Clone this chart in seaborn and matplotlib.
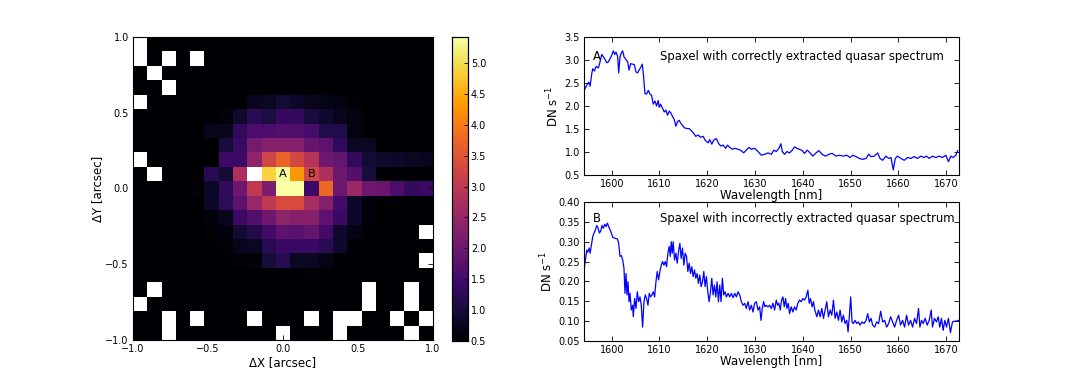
import numpy as np
import pandas as pd
import matplotlib
matplotlib.use("Agg")
import matplotlib.pyplot as plt
import seaborn as sns

N = np.nan

# ---------------- data ----------------
AXIS_TICKS = [-1.0, -0.5, 0.0, 0.5, 1.0]
CBAR_TICKS = [0.5, 1.0, 1.5, 2.0, 2.5, 3.0, 3.5, 4.0, 4.5, 5.0]
CBAR_MIN = 0.5
CBAR_MAX = 5.42

# 21 x 21 map, first row = top (dY = +1), first column = left (dX = -1)
FLUX_MAP = [
    [N, .5, .5, .5, .5, .5, .5, .5, .5, .5, .5, .5, .5, .5, .5, .5, .5, .5, .5, .5, .5],
    [N, .5, N, .5, N, .5, .5, .5, .5, .5, .5, .5, .5, .5, .5, .5, .5, .5, .5, .5, .5],
    [.5, N, .5, .5, .5, .5, .5, .5, .5, .5, .5, .5, .5, .5, .5, .5, .5, .5, .5, .5, .5],
    [.5, .5, N, .5, .5, .5, .5, .5, .5, .5, .5, .5, .5, .5, .5, .5, .5, .5, .5, .5, .5],
    [N, .5, .5, .5, .5, .5, .5, .5, .75, .8, .95, .85, .75, .7, .65, .55, .5, .5, .5, .5, .5],
    [.5, .5, .5, .5, .5, .5, .6, .9, 1.2, 1.05, 1.35, 1.35, 1.0, .9, .75, .65, .5, .5, .5, .5, .5],
    [.5, .5, .5, .5, .5, .75, .75, 1.3, 1.6, 1.6, 1.7, 1.65, 1.55, 1.1, 1.1, .65, .5, .5, .5, .5, .5],
    [.5, .5, .5, .5, .5, .5, 1.0, 1.4, 2.1, 2.3, 2.3, 2.3, 1.9, 1.8, 1.3, .8, .8, .5, .5, .5, .5],
    [N, .5, .5, .5, .5, .5, 1.45, 1.45, 2.4, 3.25, 3.7, 3.3, 2.9, 2.0, 1.9, 1.3, .95, .9, .85, .8, .75],
    [.5, N, .5, .5, .5, 1.2, .95, 2.8, N, 4.9, 5.35, 4.3, 3.25, 2.8, 2.0, 1.7, 1.0, .5, .5, .5, .5],
    [.5, .5, .5, .5, .55, .85, 1.3, 2.0, 3.0, 2.2, 5.42, 5.42, 1.45, 3.75, 2.0, 2.55, 2.0, 1.95, 1.6, 1.3, 1.4],
    [.5, .5, .5, .5, .5, .85, 1.25, 1.8, 2.5, 3.0, 3.35, 3.35, 2.7, 2.25, 1.5, .85, .6, .5, .5, .5, .5],
    [.5, .5, .5, .5, .5, .6, .75, 1.45, 1.7, 2.0, 2.4, 2.3, 2.3, 1.8, 1.4, .85, .6, .5, .5, .5, .5],
    [.5, .5, .5, .5, .5, .55, .6, .95, 1.1, 1.5, 1.8, 1.75, 1.9, 1.5, .9, .7, .5, .5, .5, .5, N],
    [.5, .5, .5, .5, .5, .5, .55, .75, .8, 1.2, 1.4, 1.4, 1.4, 1.2, .9, .5, .5, .5, .5, .5, .5],
    [.5, .5, .5, .5, .5, .5, .5, .55, .6, 1.0, 1.2, .8, .8, .7, .5, .5, .5, .5, .5, .5, N],
    [.5, .5, .5, .5, .5, .5, .5, .5, .5, .5, .5, .5, .55, .5, .5, .5, .5, .5, .5, .5, .5],
    [.5, N, .5, .5, .5, .5, .5, .5, .5, .5, .5, .5, .5, .5, .5, .5, N, .5, .5, N, .5],
    [N, .5, .5, .5, .5, .5, .5, .5, .5, .5, .5, .5, .5, .5, .5, .5, N, .5, .5, N, .5],
    [.5, .5, N, .5, N, .5, .5, .5, N, .5, .5, .5, N, .5, N, N, .5, .5, N, .5, N],
    [.5, .5, N, .5, .5, .5, .5, .5, .5, .5, N, .5, .5, .5, N, .5, .5, .5, .5, N, .5],
]
MAP_LABELS = ["A", "B"]
MAP_LABEL_CELLS = [(9, 10), (9, 12)]  # (row, col)

WAVE_A = [1594.22, 1594.78, 1595.20, 1595.48, 1595.82, 1596.03, 1596.38, 1596.73, 1597.22, 1597.56,
          1597.91, 1598.26, 1598.61, 1598.96, 1599.30, 1599.65, 1600.00, 1600.35, 1600.63, 1600.90,
          1601.25, 1601.46, 1601.74, 1602.09, 1602.30, 1602.57, 1602.99, 1603.34, 1603.62, 1603.97,
          1604.38, 1604.73, 1605.08, 1605.43, 1605.78, 1606.12, 1606.40, 1606.68, 1606.96, 1607.31,
          1607.66, 1608.00, 1608.35, 1608.70, 1609.05, 1609.39, 1609.74, 1609.95, 1610.23, 1610.65,
          1611.00, 1611.34, 1611.69, 1612.04, 1612.39, 1612.73, 1613.08, 1613.43, 1613.78, 1614.13,
          1614.47, 1614.82, 1615.17, 1615.66, 1616.21, 1616.70, 1617.19, 1617.61, 1618.09, 1618.58,
          1619.14, 1619.62, 1620.18, 1620.53, 1620.95, 1621.36, 1621.92, 1622.41, 1622.83, 1623.31,
          1623.87, 1624.22, 1624.70, 1625.26, 1625.75, 1626.44, 1627.14, 1627.63, 1628.18, 1628.74,
          1629.23, 1629.92, 1630.62, 1631.32, 1632.01, 1632.71, 1633.40, 1633.96, 1634.45, 1635.00,
          1635.42, 1635.70, 1636.19, 1636.67, 1637.23, 1637.79, 1638.27, 1638.76, 1639.32, 1639.87,
          1640.36, 1640.92, 1641.54, 1642.10, 1642.66, 1643.35, 1644.05, 1644.75, 1645.44, 1646.14,
          1646.97, 1647.67, 1648.50, 1649.20, 1649.90, 1650.45, 1651.15, 1651.84, 1652.54, 1653.24,
          1653.79, 1654.28, 1654.98, 1655.67, 1656.16, 1656.72, 1657.41, 1657.97, 1658.46, 1658.94,
          1659.36, 1659.85, 1660.54, 1661.24, 1661.93, 1662.63, 1663.33, 1664.02, 1664.72, 1665.41,
          1665.90, 1666.46, 1667.15, 1667.85, 1668.55, 1669.24, 1669.94, 1670.49, 1670.98, 1671.47,
          1672.03, 1672.44]
FLUX_A = [2.34, 2.45, 2.52, 2.43, 2.70, 2.81, 2.76, 2.86, 2.83, 2.96,
          3.12, 3.07, 3.01, 2.94, 2.96, 3.03, 3.10, 3.20, 3.12, 3.17,
          3.07, 2.72, 3.07, 3.17, 3.20, 3.07, 3.01, 2.96, 2.78, 2.92,
          2.91, 2.90, 2.74, 2.72, 2.79, 2.85, 2.91, 2.63, 2.27, 2.26,
          2.34, 2.26, 2.23, 2.04, 2.11, 2.00, 2.12, 1.97, 2.04, 1.95,
          1.87, 1.91, 1.80, 1.89, 1.85, 1.77, 1.71, 1.56, 1.66, 1.69,
          1.62, 1.58, 1.53, 1.51, 1.51, 1.46, 1.40, 1.34, 1.37, 1.32,
          1.34, 1.25, 1.20, 1.27, 1.17, 1.26, 1.29, 1.18, 1.13, 1.15,
          1.08, 1.15, 1.10, 1.06, 1.08, 1.06, 1.03, 0.98, 1.04, 1.10,
          1.06, 1.08, 1.01, 0.93, 0.95, 0.98, 0.95, 1.04, 1.01, 1.08,
          1.18, 1.01, 0.95, 1.01, 0.98, 1.04, 1.11, 1.08, 1.06, 1.03,
          0.97, 1.04, 0.98, 0.91, 0.97, 1.03, 0.95, 0.91, 0.95, 0.97,
          0.91, 0.93, 0.91, 0.93, 0.88, 0.93, 0.90, 0.86, 0.84, 0.86,
          0.95, 0.90, 0.91, 0.98, 0.86, 0.82, 0.91, 0.86, 0.88, 0.61,
          0.86, 0.91, 0.86, 0.82, 0.88, 0.86, 0.90, 0.86, 0.91, 0.88,
          0.91, 0.86, 0.91, 0.88, 0.91, 0.88, 0.93, 0.79, 0.91, 0.88,
          0.93, 1.03]

WAVE_B = [1594.22, 1594.50, 1594.78, 1594.99, 1595.27, 1595.48, 1595.75, 1596.03, 1596.31, 1596.59,
          1596.87, 1597.15, 1597.43, 1597.70, 1597.98, 1598.26, 1598.54, 1598.82, 1599.10, 1599.37,
          1599.65, 1599.93, 1600.21, 1600.63, 1601.18, 1601.46, 1601.74, 1602.02, 1602.30, 1602.57,
          1602.78, 1602.99, 1603.20, 1603.41, 1603.62, 1603.83, 1604.11, 1604.38, 1604.52, 1604.80,
          1605.08, 1605.36, 1605.64, 1605.92, 1606.19, 1606.47, 1606.75, 1607.03, 1607.31, 1607.59,
          1607.86, 1608.14, 1608.42, 1608.70, 1608.98, 1609.26, 1609.53, 1609.81, 1610.09, 1610.37,
          1610.65, 1610.93, 1611.20, 1611.48, 1611.76, 1612.04, 1612.25, 1612.46, 1612.67, 1612.87,
          1613.15, 1613.43, 1613.71, 1613.99, 1614.27, 1614.54, 1614.82, 1615.10, 1615.38, 1615.66,
          1615.94, 1616.21, 1616.49, 1616.77, 1617.05, 1617.33, 1617.61, 1617.88, 1618.16, 1618.44,
          1618.72, 1619.00, 1619.28, 1619.55, 1619.83, 1620.11, 1620.39, 1620.67, 1620.95, 1621.22,
          1621.50, 1621.78, 1622.06, 1622.34, 1622.62, 1622.89, 1623.17, 1623.45, 1623.73, 1624.01,
          1624.36, 1624.70, 1625.05, 1625.40, 1625.75, 1626.10, 1626.44, 1626.79, 1627.14, 1627.49,
          1627.84, 1628.18, 1628.53, 1628.88, 1629.23, 1629.58, 1629.92, 1630.27, 1630.62, 1630.97,
          1631.25, 1631.52, 1631.80, 1632.08, 1632.36, 1632.71, 1633.06, 1633.40, 1633.75, 1634.10,
          1634.45, 1634.73, 1635.00, 1635.28, 1635.56, 1635.84, 1636.12, 1636.40, 1636.67, 1636.95,
          1637.23, 1637.58, 1637.93, 1638.27, 1638.62, 1638.97, 1639.32, 1639.67, 1640.01, 1640.36,
          1640.71, 1641.06, 1641.34, 1641.61, 1641.96, 1642.24, 1642.52, 1642.94, 1643.28, 1643.63,
          1643.98, 1644.33, 1644.68, 1645.02, 1645.37, 1645.72, 1646.07, 1646.42, 1646.76, 1647.11,
          1647.46, 1647.81, 1648.16, 1648.50, 1648.85, 1649.20, 1649.48, 1649.76, 1650.03, 1650.31,
          1650.59, 1650.94, 1651.29, 1651.64, 1651.98, 1652.40, 1652.82, 1653.24, 1653.58, 1653.93,
          1654.28, 1654.63, 1655.05, 1655.46, 1655.88, 1656.30, 1656.72, 1657.13, 1657.55, 1657.97,
          1658.39, 1658.80, 1659.22, 1659.64, 1660.06, 1660.47, 1660.89, 1661.31, 1661.73, 1662.14,
          1662.56, 1662.98, 1663.40, 1663.81, 1664.23, 1664.51, 1664.86, 1665.21, 1665.62, 1666.04,
          1666.46, 1666.88, 1667.15, 1667.57, 1667.99, 1668.34, 1668.68, 1669.03, 1669.38, 1669.73,
          1670.08, 1670.49, 1670.91, 1671.33, 1671.75, 1672.16, 1672.58]
FLUX_B = [0.231, 0.254, 0.279, 0.274, 0.284, 0.271, 0.292, 0.313, 0.322, 0.330,
          0.341, 0.334, 0.322, 0.327, 0.341, 0.334, 0.344, 0.338, 0.347, 0.338,
          0.330, 0.322, 0.311, 0.309, 0.307, 0.296, 0.263, 0.265, 0.254, 0.233,
          0.170, 0.220, 0.166, 0.199, 0.149, 0.170, 0.128, 0.140, 0.111, 0.157,
          0.132, 0.174, 0.149, 0.161, 0.140, 0.085, 0.149, 0.166, 0.157, 0.140,
          0.170, 0.161, 0.166, 0.174, 0.161, 0.199, 0.225, 0.204, 0.225, 0.241,
          0.250, 0.241, 0.250, 0.237, 0.271, 0.288, 0.263, 0.300, 0.271, 0.300,
          0.254, 0.271, 0.246, 0.275, 0.296, 0.258, 0.284, 0.241, 0.271, 0.263,
          0.225, 0.246, 0.220, 0.237, 0.212, 0.229, 0.208, 0.220, 0.195, 0.216,
          0.187, 0.199, 0.225, 0.187, 0.212, 0.174, 0.149, 0.174, 0.208, 0.166,
          0.191, 0.161, 0.199, 0.149, 0.191, 0.149, 0.208, 0.166, 0.174, 0.161,
          0.170, 0.161, 0.170, 0.159, 0.170, 0.161, 0.174, 0.166, 0.149, 0.140,
          0.145, 0.132, 0.149, 0.128, 0.140, 0.123, 0.145, 0.149, 0.128, 0.136,
          0.102, 0.132, 0.149, 0.136, 0.140, 0.136, 0.140, 0.132, 0.145, 0.128,
          0.153, 0.140, 0.145, 0.128, 0.153, 0.161, 0.136, 0.157, 0.132, 0.145,
          0.119, 0.136, 0.123, 0.136, 0.128, 0.145, 0.153, 0.149, 0.157, 0.153,
          0.161, 0.178, 0.145, 0.157, 0.136, 0.149, 0.128, 0.111, 0.128, 0.111,
          0.132, 0.107, 0.128, 0.149, 0.111, 0.128, 0.115, 0.153, 0.107, 0.123,
          0.102, 0.128, 0.098, 0.115, 0.094, 0.102, 0.073, 0.115, 0.161, 0.098,
          0.094, 0.102, 0.094, 0.098, 0.090, 0.098, 0.094, 0.102, 0.119, 0.098,
          0.107, 0.090, 0.085, 0.098, 0.094, 0.125, 0.098, 0.102, 0.085, 0.094,
          0.111, 0.098, 0.085, 0.102, 0.115, 0.090, 0.102, 0.085, 0.115, 0.090,
          0.102, 0.085, 0.107, 0.094, 0.132, 0.085, 0.102, 0.094, 0.107, 0.090,
          0.102, 0.128, 0.085, 0.107, 0.098, 0.111, 0.085, 0.107, 0.077, 0.102,
          0.085, 0.107, 0.071, 0.098, 0.100, 0.100, 0.102]

WAVE_TICKS = [1600, 1610, 1620, 1630, 1640, 1650, 1660, 1670]
YTICKS_A = [0.5, 1.0, 1.5, 2.0, 2.5, 3.0, 3.5]
YTICKS_B = [0.05, 0.10, 0.15, 0.20, 0.25, 0.30, 0.35, 0.40]
TITLE_A = "Spaxel with correctly extracted quasar spectrum"
TITLE_B = "Spaxel with incorrectly extracted quasar spectrum"

# ---------------- style ----------------
TICK_FS = 7.0
LABEL_FS = 8.5
NOTE_FS = 8.4

plt.rcParams.update({
    "font.family": ["DejaVu Sans"],
    "xtick.direction": "in", "ytick.direction": "in",
    "xtick.top": True, "ytick.right": True,
    "xtick.labelsize": TICK_FS, "ytick.labelsize": TICK_FS,
    "axes.labelsize": LABEL_FS,
    "xtick.major.size": 3.5, "ytick.major.size": 3.5,
    "axes.unicode_minus": True,
})

W, H = 1066, 380
fig = plt.figure(figsize=(W / 100, H / 100), dpi=100)


def px_axes(x0, y0, x1, y1):
    return fig.add_axes([x0 / W, 1 - y1 / H, (x1 - x0) / W, (y1 - y0) / H])


def fmt(v, nd):
    return f"{v:.{nd}f}".replace("-", "\u2212")


# ---------------- heatmap ----------------
ax_h = px_axes(133, 37, 433, 340)
cax = px_axes(452, 37, 468, 341)
arr = np.array(FLUX_MAP, dtype=float)
nrow, ncol = arr.shape
sns.heatmap(arr, ax=ax_h, cmap="inferno", vmin=CBAR_MIN, vmax=CBAR_MAX,
            cbar_ax=cax, xticklabels=False, yticklabels=False)
ax_h.set_facecolor("white")
for sp in ax_h.spines.values():
    sp.set_visible(True)
    sp.set_color("black")
    sp.set_linewidth(0.8)
ax_h.set_xticks([(v + 1) / 2 * ncol for v in AXIS_TICKS])
ax_h.set_xticklabels([fmt(v, 1) for v in AXIS_TICKS], rotation=0)
ax_h.set_yticks([(1 - v) / 2 * nrow for v in AXIS_TICKS])
ax_h.set_yticklabels([fmt(v, 1) for v in AXIS_TICKS], rotation=0)
ax_h.tick_params(direction="in", top=True, right=True, length=3.5, width=0.6,
                 color="black", labelsize=TICK_FS, pad=3)
ax_h.set_xlabel("\u0394X [arcsec]", fontsize=LABEL_FS, labelpad=1)
ax_h.set_ylabel("\u0394Y [arcsec]", fontsize=LABEL_FS, labelpad=1)
for lab, (r, c) in zip(MAP_LABELS, MAP_LABEL_CELLS):
    ax_h.text(c + 0.5, r + 0.5, lab, ha="center", va="center", fontsize=8.2, color="black")

cax.set_yticks(CBAR_TICKS)
cax.set_yticklabels([fmt(v, 1) for v in CBAR_TICKS])
cax.tick_params(direction="in", length=3, width=0.6, labelsize=TICK_FS, pad=2)
for sp in cax.spines.values():
    sp.set_visible(True)
    sp.set_color("black")
    sp.set_linewidth(0.8)

# ---------------- spectra ----------------
ax_a = px_axes(584, 37, 959, 175)
ax_b = px_axes(584, 202, 959, 341)

df_a = pd.DataFrame({"wave": WAVE_A, "flux": FLUX_A})
df_b = pd.DataFrame({"wave": WAVE_B, "flux": FLUX_B})

for ax, df, yt, nd, ttl, tag, ty in [
    (ax_a, df_a, YTICKS_A, 1, TITLE_A, "A", 0.857),
    (ax_b, df_b, YTICKS_B, 2, TITLE_B, "B", 0.878),
]:
    sns.lineplot(data=df, x="wave", y="flux", ax=ax, color="#0000ff", lw=0.9,
                 estimator=None, sort=False)
    ax.set_xlim(1594.2, 1672.7)
    ax.set_ylim(yt[0], yt[-1])
    ax.set_xticks(WAVE_TICKS)
    ax.set_xticklabels([str(v) for v in WAVE_TICKS])
    ax.set_yticks(yt)
    ax.set_yticklabels([fmt(v, nd) for v in yt])
    ax.tick_params(direction="in", top=True, right=True, length=3.5, width=0.6,
                   labelsize=TICK_FS, pad=3)
    ax.set_xlabel("Wavelength [nm]", fontsize=LABEL_FS, labelpad=0)
    ax.set_ylabel("DN s$^{-1}$", fontsize=LABEL_FS, labelpad=2)
    for sp in ax.spines.values():
        sp.set_color("black")
        sp.set_linewidth(0.8)
    ax.text(0.203, ty, ttl, transform=ax.transAxes, ha="left", va="center", fontsize=NOTE_FS)
    ax.text(0.023, ty, tag, transform=ax.transAxes, ha="left", va="center", fontsize=NOTE_FS)

fig.savefig("out.png", dpi=100)
